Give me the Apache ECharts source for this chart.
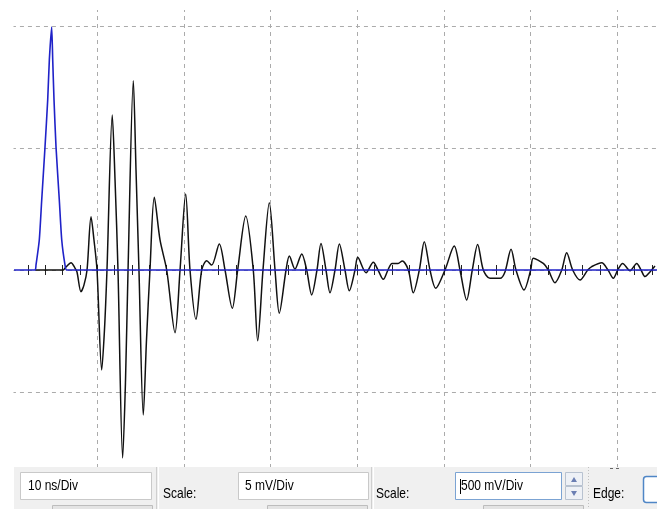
<!DOCTYPE html>
<html>
<head>
<meta charset="utf-8">
<script src="https://cdn.jsdelivr.net/npm/echarts@6/dist/echarts.min.js"></script>
<style>
html,body{margin:0;padding:0;background:#fff;}
#chart{width:657px;height:509px;}
</style>
</head>
<body>
<div id="chart"></div>
<script>
// ---- Data (time in ns, black trace in mV, blue trace in mV) ----
var blackTime = [2.82,6.05,6.39,6.97,7.43,7.66,8.12,8.47,8.82,9.28,9.62,9.97,10.51,10.83,11.12,11.73,12.05,12.39,12.93,13.26,13.55,14.16,14.47,14.81,15.31,15.68,16.08,16.58,17.24,18.01,18.97,19.55,20.20,20.70,21.39,22.05,22.63,23.20,24.08,24.74,25.58,26.20,27.13,28.00,28.51,29.12,29.85,30.51,31.00,31.78,32.16,32.81,33.59,34.16,34.74,35.35,35.81,36.39,36.85,37.43,37.93,38.58,39.08,39.74,40.05,41.01,41.85,42.39,43.00,43.54,44.01,44.70,45.19,45.89,46.46,47.16,47.73,48.39,49.05,50.12,51.19,51.85,52.62,53.27,53.89,54.54,55.31,56.47,57.04,57.74,58.31,59.24,60.01,60.31,61.46,62.04,62.81,63.59,64.16,64.85,65.70,66.59,67.05,68.20,68.93,69.54,70.05,70.62,71.47,72.24,72.74,73.20,73.77,74.35];
var blackVolt = [0,0,0.12,0.30,0.08,-0.08,-0.89,-0.61,0,2.18,1.23,0,-4.10,-2.46,0,6.35,3.69,0,-7.70,-4.51,0,7.76,4.10,0,-5.94,-2.87,0,2.98,1.23,0,-2.57,0,3.11,0,-2.02,0,0.38,0.20,1.07,0,-1.57,0,2.21,0,-2.90,0,2.76,0,-1.77,0,0.57,0.04,0.66,0,-1.02,0,1.09,0,-0.93,0,1.07,0,-0.85,0,0.52,-0.11,0.32,0,-0.38,0,0.27,0.27,0.37,0,-0.93,0,1.16,0,-0.75,0,0.98,0,-1.23,0,1.05,0,-0.34,-0.34,-0.08,0.85,0,-0.82,0,0.48,0.27,0,-0.52,0,0.71,0,-0.41,0,0.14,0.30,0,-0.34,0,0.27,-0.03,0.27,0,-0.27,-0.08,0.16];
var blueTime = [0.39,2.82,2.93,3.31,3.59,3.97,4.28,4.47,4.74,4.86,5.01,5.24,5.62,5.90,6.28,6.47,74.6];
var blueVolt = [0,0,20,123,287,504,697,861,996,861,697,504,287,123,20,0,0];

var timePerDiv = 10;      // ns/Div
var blackPerDiv = 5;      // mV/Div
var bluePerDiv = 500;     // mV/Div
var divX = [-1, 8];       // horizontal division range (partly cropped)
var divY = [-2, 3];       // vertical division range (partly cropped)
var panelTexts = ['10 ns/Div', 'Scale:', '5 mV/Div', 'Scale:', '500 mV/Div', 'Edge:'];

function pairs(xs, ys){ return xs.map(function(x,i){ return [x, ys[i]]; }); }

var pxPerDivX = 86.67, pxPerDivY = 122, originX = 10.6, zeroY = 270;
var gridLeft = originX + divX[0] * pxPerDivX;
var gridWidth = (divX[1] - divX[0]) * pxPerDivX;
var gridTop = zeroY - divY[1] * pxPerDivY;
var gridHeight = (divY[1] - divY[0]) * pxPerDivY;

var chart = echarts.init(document.getElementById('chart'), null, {renderer:'canvas'});

var font = '"Liberation Sans",Arial,sans-serif';
function box(x,y,w,h,stroke){ return {type:'rect', shape:{x:x,y:y,width:w,height:h}, style:{fill:'#fff', stroke:stroke||'#c9c9c9', lineWidth:1}, z:100}; }
function txt(x,y,s){ return {type:'text', x:x, y:y, scaleY:1.18, style:{text:s, fill:'#000', font:'12px ' + font, textVerticalAlign:'middle'}, z:101}; }

var graphics = [
  {type:'rect', shape:{x:0,y:0,width:657,height:10}, style:{fill:'#fff'}, z:90},
  {type:'rect', shape:{x:0,y:0,width:13.5,height:509}, style:{fill:'#fff'}, z:90},
  {type:'rect', shape:{x:14,y:467,width:643,height:42}, style:{fill:'#f0f0f0'}, z:99},
  box(20.5,472.5,131,27),
  {type:'line', shape:{x1:156.5,y1:467,x2:156.5,y2:509}, style:{stroke:'#cfcfcf',lineWidth:1}, z:100},
  {type:'line', shape:{x1:158.5,y1:467,x2:158.5,y2:509}, style:{stroke:'#ffffff',lineWidth:1}, z:100},
  box(238.5,472.5,130,27),
  {type:'line', shape:{x1:371.5,y1:467,x2:371.5,y2:509}, style:{stroke:'#cfcfcf',lineWidth:1}, z:100},
  {type:'line', shape:{x1:373.5,y1:467,x2:373.5,y2:509}, style:{stroke:'#ffffff',lineWidth:1}, z:100},
  box(455.5,472.5,106,27,'#7ba3d3'),
  {type:'line', shape:{x1:460.5,y1:479,x2:460.5,y2:494}, style:{stroke:'#000',lineWidth:1}, z:102},
  {type:'rect', shape:{x:565.5,y:472.5,width:17,height:13}, style:{fill:'#eef1f6', stroke:'#b8c2d0', lineWidth:1}, z:100},
  {type:'rect', shape:{x:565.5,y:486.5,width:17,height:13}, style:{fill:'#eef1f6', stroke:'#b8c2d0', lineWidth:1}, z:100},
  {type:'polygon', shape:{points:[[571,482],[577,482],[574,477]]}, style:{fill:'#6b7fb3'}, z:101},
  {type:'polygon', shape:{points:[[571,491],[577,491],[574,496]]}, style:{fill:'#6b7fb3'}, z:101},
  {type:'line', shape:{x1:588.5,y1:467,x2:588.5,y2:509}, style:{stroke:'#c0c0c0',lineWidth:1,lineDash:[1,2]}, z:100},
  {type:'line', shape:{x1:610,y1:468.5,x2:613,y2:468.5}, style:{stroke:'#666',lineWidth:1}, z:100},
  {type:'line', shape:{x1:616,y1:468.5,x2:619,y2:468.5}, style:{stroke:'#666',lineWidth:1}, z:100},
  {type:'rect', shape:{x:643.5,y:476.5,width:20,height:26,r:3}, style:{fill:'#fff', stroke:'#4f86c6', lineWidth:1.5}, z:100},
  {type:'rect', shape:{x:52.5,y:505.5,width:100,height:8}, style:{fill:'#e4e4e4', stroke:'#bdbdbd', lineWidth:1}, z:100},
  {type:'rect', shape:{x:267.5,y:505.5,width:100,height:8}, style:{fill:'#e4e4e4', stroke:'#bdbdbd', lineWidth:1}, z:100},
  {type:'rect', shape:{x:483.5,y:505.5,width:100,height:8}, style:{fill:'#e4e4e4', stroke:'#bdbdbd', lineWidth:1}, z:100},
  txt(28,486,panelTexts[0]),
  txt(163,494,panelTexts[1]),
  txt(245,486,panelTexts[2]),
  txt(376,494,panelTexts[3]),
  txt(461,486,panelTexts[4]),
  txt(593,494,panelTexts[5])
];

var xCommon = {
  type:'value', min:divX[0]*timePerDiv, max:divX[1]*timePerDiv, interval:timePerDiv,
  axisLabel:{show:false},
  axisLine:{show:false, onZero:true},
  axisTick:{show:true, length:5, inside:false, lineStyle:{color:'#222', width:1}},
  minorTick:{show:true, splitNumber:5, length:5, lineStyle:{color:'#222', width:1}},
  minorSplitLine:{show:false}
};

chart.setOption({
  animation:false,
  backgroundColor:'#ffffff',
  grid:{left:gridLeft, top:gridTop, width:gridWidth, height:gridHeight, containLabel:false, outerBoundsMode:'none'},
  xAxis:[
    Object.assign({}, xCommon, {position:'bottom',
      splitLine:{show:true, lineStyle:{color:'#ababab', type:[4,4], width:1}}}),
    Object.assign({}, xCommon, {position:'top', splitLine:{show:false}})
  ],
  yAxis:[
    {type:'value', min:divY[0]*blackPerDiv, max:divY[1]*blackPerDiv, interval:blackPerDiv,
     axisLabel:{show:false}, axisLine:{show:false}, axisTick:{show:false},
     splitLine:{show:true, lineStyle:{color:'#ababab', type:[4,4], width:1}}},
    {type:'value', min:divY[0]*bluePerDiv, max:divY[1]*bluePerDiv, interval:bluePerDiv,
     axisLabel:{show:false}, axisLine:{show:false}, axisTick:{show:false}, splitLine:{show:false}}
  ],
  series:[
    {type:'line', name:'ch1', xAxisIndex:0, yAxisIndex:0, data:pairs(blackTime, blackVolt),
     showSymbol:false, smooth:0.3, lineStyle:{color:'#111', width:1.5}, z:2},
    {type:'line', name:'ch2', xAxisIndex:0, yAxisIndex:1, data:pairs(blueTime, blueVolt),
     showSymbol:false, smooth:0.2, lineStyle:{color:'#1f22c8', width:1.6}, z:3}
  ],
  graphic:graphics
});
</script>
</body>
</html>
